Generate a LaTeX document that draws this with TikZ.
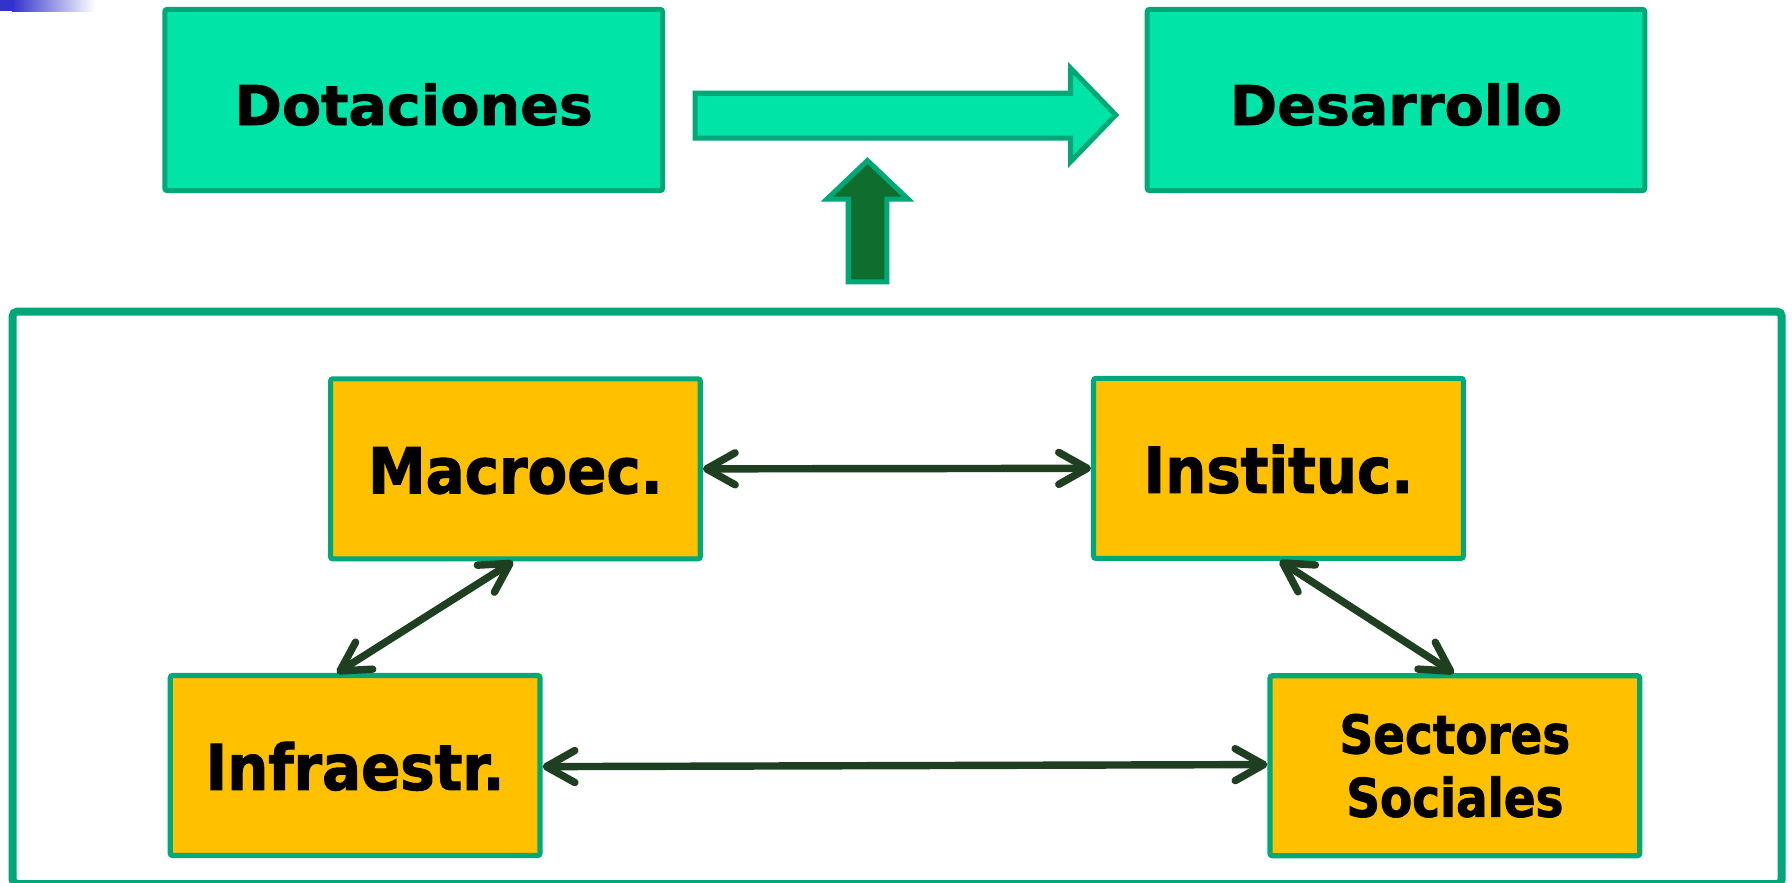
\documentclass[tikz,border=0pt]{standalone}
\usepackage{fontspec}
\setmainfont{DejaVu Sans}
\newfontfamily\widefont{DejaVu Sans}[FakeStretch=1.04,FakeBold=1.6]
\newfontfamily\narrowfont{DejaVu Sans}[FakeStretch=0.915,FakeBold=1.6]
\newfontfamily\smallnarrowfont{DejaVu Sans}[FakeStretch=0.88,FakeBold=1.6]
\usetikzlibrary{arrows.meta}
\definecolor{tealfill}{RGB}{0,228,168}
\definecolor{tealline}{RGB}{0,168,120}
\definecolor{orangefill}{RGB}{255,192,0}
\definecolor{darkarrow}{RGB}{30,64,32}
\definecolor{uparrowfill}{RGB}{15,110,45}
\definecolor{bluestrip}{RGB}{51,51,204}
\tikzset{
  topbox/.style={draw=tealline, fill=tealfill, line width=4.4pt, rounded corners=2pt,
    minimum width=435.5pt, minimum height=158.5pt, inner sep=0pt,
    font=\widefont\bfseries\fontsize{48}{56}\selectfont, text height=43.8pt, text depth=0pt},
  factorbox/.style={draw=tealline, fill=orangefill, line width=4.5pt, rounded corners=2pt,
    minimum width=323.5pt, minimum height=157.5pt, inner sep=0pt,
    font=\narrowfont\bfseries\fontsize{55.3}{62}\selectfont, text height=42.7pt, text depth=0pt},
  smallfactor/.style={draw=tealline, fill=orangefill, line width=4.5pt, rounded corners=2pt,
    minimum width=323.5pt, minimum height=157.5pt, inner sep=0pt, align=center,
    font=\smallnarrowfont\bfseries\fontsize{46.6}{55.4}\selectfont},
  link/.style={draw=darkarrow, line width=6.5pt,
    {Straight Barb[length=25pt,width=28pt,round]}-{Straight Barb[length=25pt,width=28pt,round]}},
  blockarrow/.style={draw=tealline, line width=4.4pt, line join=miter}
}
\begin{document}
\begin{tikzpicture}[x=1pt,y=-1pt]
\useasboundingbox (0,0) rectangle (1568,772.6);
% corner strip
\fill[bluestrip] (0,0) rectangle (10.5,9.6);
\shade[left color=bluestrip, right color=white] (10.5,0) rectangle (83,10.5);
% frame
\draw[tealline, line width=7pt, rounded corners=4pt] (11,272.7) rectangle (1559,773.5);
% top boxes
\node[topbox] (dot) at (362,87.5) {Dotaciones};
\node[topbox] (des) at (1221.5,87.5) {Desarrollo};
% block arrows
\draw[blockarrow, fill=tealfill] (608.2,81.6) -- (936.7,81.6) -- (936.7,59.6) -- (976.3,100.6)
  -- (936.7,141.6) -- (936.7,120.8) -- (608.2,120.8) -- cycle;
\draw[blockarrow, fill=uparrowfill] (742.2,246.6) -- (742.2,174.3) -- (723.5,174.3) -- (759,140.5)
  -- (794.6,174.3) -- (776,174.3) -- (776,246.6) -- cycle;
% factor boxes
\node[factorbox] (mac) at (451,410.25) {Macroec.};
\node[factorbox] (ins) at (1118.65,409.8) {Instituc.};
\node[factorbox] (inf) at (310.75,669.8) {Infraestr.};
\node[smallfactor] (sec) at (1273,670) {Sectores\\Sociales};
% links
\draw[link] (mac.east) -- (ins.west);
\draw[link] ([yshift=-1pt]inf.east) -- ([yshift=1pt]sec.west);
\draw[link] ([xshift=-2pt]mac.south) -- ([xshift=-16pt]inf.north);
\draw[link] ([xshift=1pt]ins.south) -- ([xshift=-1pt]sec.north);
\end{tikzpicture}
\end{document}
